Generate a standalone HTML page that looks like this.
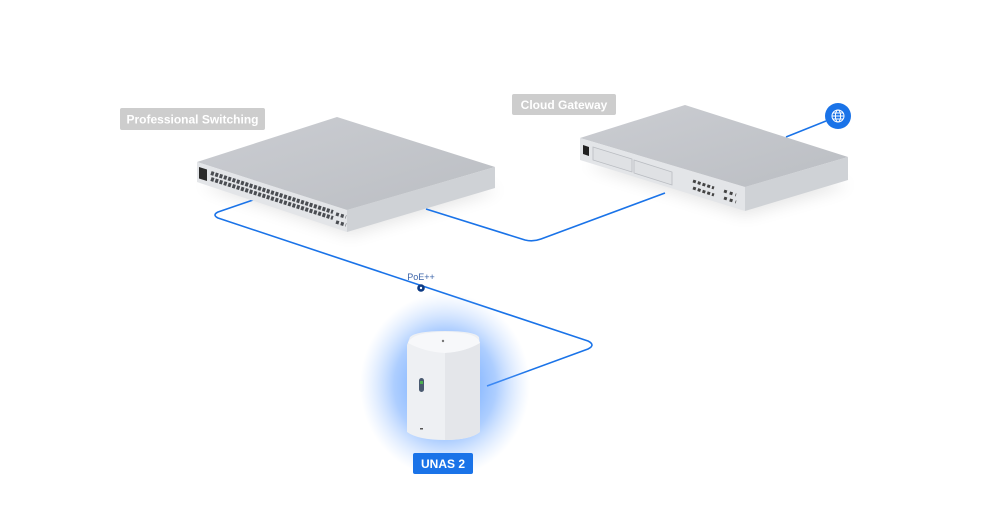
<!DOCTYPE html>
<html><head><meta charset="utf-8"><style>
html,body{margin:0;padding:0;background:#fff;}
body{width:996px;height:529px;overflow:hidden;position:relative;font-family:"Liberation Sans",sans-serif;}
svg{position:absolute;left:0;top:0;}
</style></head><body>
<svg width="996" height="529" viewBox="0 0 996 529">
<defs>
<radialGradient id="glow" cx="50%" cy="50%" r="50%">
<stop offset="0" stop-color="#3d8bff" stop-opacity="0.9"/>
<stop offset="0.6" stop-color="#5c9dff" stop-opacity="0.5"/>
<stop offset="1" stop-color="#9cc3ff" stop-opacity="0"/>
</radialGradient>
<linearGradient id="top" x1="0" y1="0" x2="1" y2="1">
<stop offset="0" stop-color="#cbcdd2"/><stop offset="1" stop-color="#bbbec3"/>
</linearGradient>
<filter id="blur" x="-50%" y="-50%" width="200%" height="200%"><feGaussianBlur stdDeviation="8"/></filter>
</defs>

<polygon points="200,185 350,235 500,190 360,160" fill="#000" opacity="0.10" filter="url(#blur)"/>
<polygon points="585,165 745,215 850,185 700,150" fill="#000" opacity="0.10" filter="url(#blur)"/>

<g fill="none" stroke="#1a73e8" stroke-width="1.6" stroke-linejoin="round">
<path d="M253,200 L218,212 Q212,215 218,218 L588,341 Q596,345 588,349 L487,386"/>
<path d="M426,209 L525,240 Q533,242 541,239 L665,193"/>
<path d="M786,137 L826,121"/>
</g>

<!-- switch -->
<polygon points="197,162 337,117 495,167 347,210" fill="url(#top)"/>
<polygon points="197,162 347,210 347,232 197,182" fill="#e3e5e8"/>
<polygon points="347,210 495,167 495,188 347,232" fill="#cfd2d6"/>
<polygon points="199,167 207,169.5 207,181 199,178.5" fill="#2a2a2a"/>
<g stroke="#4a4d52" stroke-width="4" stroke-dasharray="3,1.5">
<line x1="211" y1="173" x2="333" y2="212"/>
<line x1="211" y1="179" x2="333" y2="218"/>
</g>
<g stroke="#4a4d52" stroke-width="3.5" stroke-dasharray="3,2">
<line x1="336" y1="214" x2="346" y2="217"/>
<line x1="336" y1="222" x2="346" y2="225"/>
</g>

<!-- gateway -->
<polygon points="580,138 685,105 848,157 745,187" fill="url(#top)"/>
<polygon points="580,138 745,187 745,211 580,160" fill="#e3e5e8"/>
<polygon points="745,187 848,157 848,180 745,211" fill="#cfd2d6"/>
<polygon points="583,145 589,147 589,156 583,154" fill="#222"/>
<polygon points="593,147 632,159 632,172 593,160" fill="#dfe1e4" stroke="#b9bcc1" stroke-width="0.8"/>
<polygon points="634,160 672,172 672,185 634,173" fill="#dfe1e4" stroke="#b9bcc1" stroke-width="0.8"/>
<g stroke="#444" stroke-width="3" stroke-dasharray="3,2">
<line x1="693" y1="181" x2="714" y2="188"/>
<line x1="693" y1="188" x2="714" y2="195"/>
</g>
<g stroke="#444" stroke-width="3" stroke-dasharray="3,3">
<line x1="724" y1="191" x2="736" y2="195"/>
<line x1="724" y1="198" x2="736" y2="202"/>
</g>

<circle cx="838" cy="116" r="13" fill="#1a73e8"/>
<g fill="none" stroke="#fff" stroke-width="1">
<circle cx="838" cy="116" r="6"/>
<ellipse cx="838" cy="116" rx="2.6" ry="6"/>
<line x1="832" y1="116" x2="844" y2="116"/>
<line x1="833" y1="113" x2="843" y2="113"/>
<line x1="833" y1="119" x2="843" y2="119"/>
</g>

<ellipse cx="445" cy="385" rx="85" ry="92" fill="url(#glow)"/>
<path d="M410,337 Q416,331 445,331 Q474,331 479,337 L480,345 L480,432 Q470,440 445,440 Q418,440 407,432 L407,345 Z" fill="#eef0f3"/>
<path d="M408,343 Q425,352 445,353 Q465,352 480,343 Q478,332 445,332 Q412,332 408,343 Z" fill="#f7f8fa"/>
<path d="M445,353 Q465,352 480,343 L480,432 Q470,440 445,440 Z" fill="#e4e6ea"/>
<rect x="419" y="378" width="5" height="14" rx="2.5" fill="#4a5a70"/>
<rect x="420" y="381" width="3" height="3" fill="#4caf50"/>
<circle cx="443" cy="341" r="1.2" fill="#777"/>
<rect x="420" y="428" width="3" height="1.5" fill="#555"/>

<rect x="120" y="108" width="145" height="22" rx="2" fill="#cdcdcd"/>
<text x="192.5" y="123.5" text-anchor="middle" font-size="12" font-weight="bold" fill="#fff" font-family="Liberation Sans, sans-serif">Professional Switching</text>
<rect x="512" y="94" width="104" height="21" rx="2" fill="#cdcdcd"/>
<text x="564" y="109" text-anchor="middle" font-size="12" font-weight="bold" fill="#fff" font-family="Liberation Sans, sans-serif">Cloud Gateway</text>
<rect x="413" y="453" width="60" height="21" rx="2" fill="#1a73e8"/>
<text x="443" y="468" text-anchor="middle" font-size="12" font-weight="bold" fill="#fff" font-family="Liberation Sans, sans-serif">UNAS 2</text>

<text x="421" y="280" text-anchor="middle" font-size="9" fill="#3a63a8" font-family="Liberation Sans, sans-serif">PoE++</text>
<circle cx="421" cy="288" r="3.8" fill="#0d3b85"/>
<circle cx="421" cy="288" r="1.2" fill="#fff"/>
</svg>
</body></html>
